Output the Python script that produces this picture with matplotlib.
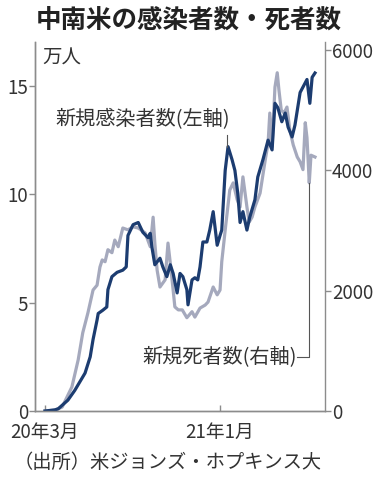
import pandas as pd
import matplotlib
matplotlib.use('Agg')
import matplotlib.pyplot as plt

plt.rcParams['font.family'] = ['Noto Sans CJK JP', 'DejaVu Sans']

start = pd.Timestamp('2020-03-01')

# 新規感染者数(万人) 2020-03-01からの日数
case_days = [0, 17, 23, 40, 52, 70, 79, 84, 91, 93, 101, 108, 110, 117, 126, 136,
             142, 145, 154, 163, 171, 180, 184, 187, 192, 201, 206, 213, 219, 224,
             231, 236, 241, 248, 250, 257, 262, 267, 271, 276, 283, 288, 294, 301,
             306, 309, 315, 320, 327, 332, 337, 341, 346, 353, 358, 367, 372, 381,
             390, 397, 402, 407, 414, 420, 425, 432, 437, 446, 451, 458, 463, 467, 472]
case_vals = [0, 0.05, 0.1, 0.5, 0.95, 1.75, 2.5, 3.3, 4.2, 4.5, 4.65, 4.8, 5.6, 6.2,
             6.4, 6.5, 6.65, 8.1, 8.6, 8.7, 8.25, 8.0, 8.2, 7.55, 6.75, 7.05, 6.65,
             6.2, 6.75, 6.35, 5.45, 6.35, 6.2, 5.6, 4.9, 6.05, 6.15, 6.05, 6.65, 7.8,
             7.8, 8.35, 9.2, 7.65, 8.1, 8.35, 11.1, 12.2, 11.6, 11.1, 10.05, 8.7, 9.2,
             8.35, 8.95, 9.75, 10.8, 11.6, 12.5, 12.05, 14.2, 14.0, 13.35, 13.75, 13.1,
             12.65, 13.2, 14.7, 14.95, 15.3, 14.2, 15.4, 15.6]

# 新規死者数(人)
death_days = [0, 17, 30, 47, 58, 66, 75, 84, 91, 96, 100, 105, 110, 117, 122, 128,
              136, 145, 154, 163, 175, 184, 189, 192, 196, 201, 210, 215, 219, 224,
              227, 233, 240, 248, 257, 262, 271, 280, 285, 294, 301, 306, 309, 316,
              323, 329, 336, 341, 346, 353, 357, 362, 367, 376, 385, 390, 393, 397,
              402, 406, 409, 413, 418, 423, 428, 434, 441, 446, 451, 455, 458, 462,
              465, 472]
death_vals = [0, 15, 65, 400, 850, 1300, 1630, 2010, 2090, 2390, 2510, 2480, 2680,
              2630, 2840, 2730, 3040, 3010, 3060, 3040, 2960, 2730, 3220, 2790, 2340,
              2060, 2180, 2790, 2460, 2010, 1730, 1680, 1680, 1550, 1650, 1560, 1710,
              1760, 1810, 2060, 1930, 2010, 2480, 3090, 3670, 3790, 3510, 3390, 3890,
              3390, 3140, 3220, 3390, 3620, 4170, 4450, 4950, 4390, 5380, 5620, 5330,
              5000, 4950, 5050, 4670, 4420, 4220, 4140, 4010, 4790, 4540, 3790, 4250,
              4220]

left_ticks = [0, 5, 10, 15]
right_ticks = [0, 2000, 4000, 6000]
x_ticks = ['2020-03-01', '2021-01-01']
x_labels = ['20年3月', '21年1月']

navy = '#1c3c70'
grey = '#a5a9bd'
spine = '#8c8c8c'
txt = '#333333'

case_dates = start + pd.to_timedelta(case_days, unit='D')
death_dates = start + pd.to_timedelta(death_days, unit='D')

W, H = 378, 479
fig = plt.figure(figsize=(W / 100, H / 100), dpi=100)
ax = fig.add_axes([35 / W, 68 / H, 290 / W, 369 / H])
ax2 = ax.twinx()
ax.set_zorder(ax2.get_zorder() + 1)
ax.patch.set_visible(False)

ax2.plot(death_dates, death_vals, color=grey, lw=2.3, solid_joinstyle='round')
ax.plot(case_dates, case_vals, color=navy, lw=2.3, solid_joinstyle='round')

top = 17.03
ax.set_ylim(0, top)
ax2.set_ylim(0, top * 360)
ax.set_xlim(start - pd.Timedelta(days=17.5), start + pd.Timedelta(days=489.5))

for a in (ax, ax2):
    for s in a.spines.values():
        s.set_color(spine)
        s.set_linewidth(1)
    a.spines['top'].set_visible(False)
ax.spines['right'].set_visible(False)

ax.set_yticks(left_ticks)
ax.tick_params(axis='y', direction='out', length=4, width=1, color=spine,
               labelcolor=txt, labelsize=13.5, pad=1)
ax2.set_yticks(right_ticks)
ax2.tick_params(axis='y', direction='out', length=4, width=1, color=spine,
                labelcolor=txt, labelsize=13.5, pad=1)
ax.set_xticks(pd.to_datetime(x_ticks))
ax.set_xticklabels(x_labels)
ax.tick_params(axis='x', direction='in', length=4, width=1, color=spine,
               labelcolor=txt, labelsize=13.5, pad=8)

# 注記
ax.text(start + pd.Timedelta(days=323), 13.43, '新規感染者数(左軸)', ha='right',
        va='center', fontsize=14.5, color=txt)
ax.plot([start + pd.Timedelta(days=318)] * 2, [12.74, 12.2], color='#555555', lw=0.8)

ax2.text(start + pd.Timedelta(days=440), 897, '新規死者数(右軸)', ha='right',
         va='center', fontsize=14.5, color=txt)
ax2.plot([start + pd.Timedelta(days=440.6), start + pd.Timedelta(days=461.5),
          start + pd.Timedelta(days=461.5)], [897, 897, 3790], color='#555555', lw=0.8)

fig.text(42 / W, 1 - 58 / H, '万人', ha='left', va='center', fontsize=14, color=txt)
fig.text(189 / W, 1 - 20 / H, '中南米の感染者数・死者数', ha='center', va='center',
         fontsize=18.4, fontweight='bold', color='#222222')
fig.text(14 / W, 1 - 462 / H, '（出所）米ジョンズ・ホプキンス大', ha='left', va='center',
         fontsize=13.9, color=txt)

fig.savefig('out.png', dpi=100)
